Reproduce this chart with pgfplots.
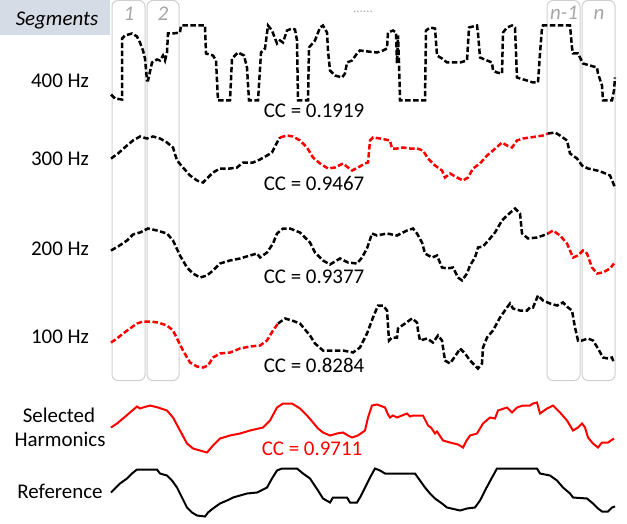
\documentclass[border=0pt]{standalone}
\usepackage{pgfplots}
\pgfplotsset{compat=1.18}
\usepackage{fontspec}
\setmainfont{Carlito}
\definecolor{segfill}{HTML}{D6DCE5}
\definecolor{boxgray}{HTML}{D0D0D0}
\definecolor{lblgray}{HTML}{A6A6A6}
\newcommand\lbl{\fontsize{21}{25}\selectfont}
\begin{document}
\begin{tikzpicture}
\begin{axis}[scale only axis, width=627bp, height=523bp,
  xmin=0, xmax=627, ymin=0, ymax=523, y dir=reverse,
  hide axis, clip=false]
\path (axis cs:0,0) rectangle (axis cs:627,523);
% segments header
\fill[segfill] (axis cs:0,0) rectangle (axis cs:110,35);
\node[anchor=base, font=\lbl\itshape] at (axis cs:57,25) {Segments};
% segment boxes
\draw[boxgray, line width=1bp, rounded corners=6bp] (axis cs:112,0) rectangle (axis cs:145,380);
\draw[boxgray, line width=1bp, rounded corners=6bp] (axis cs:147,0) rectangle (axis cs:179,380);
\draw[boxgray, line width=1bp, rounded corners=6bp] (axis cs:547,0) rectangle (axis cs:580,380);
\draw[boxgray, line width=1bp, rounded corners=6bp] (axis cs:582,0) rectangle (axis cs:615,380);
\node[anchor=base, font=\lbl\itshape, text=lblgray] at (axis cs:129,20) {1};
\node[anchor=base, font=\lbl\itshape, text=lblgray] at (axis cs:163,20) {2};
\node[anchor=base, font=\lbl\itshape, text=lblgray] at (axis cs:564,19) {n-1};
\node[anchor=base, font=\lbl\itshape, text=lblgray] at (axis cs:599,19) {n};
\node[anchor=base, font=\fontsize{13}{14}\selectfont, text=lblgray] at (axis cs:363,12) {......};
% row labels
\node[anchor=base, font=\lbl] at (axis cs:60,87) {400 Hz};
\node[anchor=base, font=\lbl] at (axis cs:60,165) {300 Hz};
\node[anchor=base, font=\lbl] at (axis cs:60,255) {200 Hz};
\node[anchor=base, font=\lbl] at (axis cs:60,343) {100 Hz};
\node[anchor=base, font=\lbl] at (axis cs:59,422) {Selected};
\node[anchor=base, font=\lbl] at (axis cs:60,446) {Harmonics};
\node[anchor=base, font=\lbl] at (axis cs:60,498) {Reference};
% CC labels
\node[anchor=base, font=\lbl] at (axis cs:314,117) {CC = 0.1919};
\node[anchor=base, font=\lbl] at (axis cs:314,190) {CC = 0.9467};
\node[anchor=base, font=\lbl] at (axis cs:314,283) {CC = 0.9377};
\node[anchor=base, font=\lbl] at (axis cs:314,372) {CC = 0.8284};
\node[anchor=base, font=\lbl, text=red] at (axis cs:312,455) {CC = 0.9711};
% 400 Hz
\addplot[black, line width=2.5bp, dash pattern=on 5.5bp off 2.5bp] coordinates {
(111,94) (115,98) (122,99) (122,38) (125,35) (132,33) (137,36) (140,42) (143,50) (145,58) (147,80) (148,80) (152,62) (157,59) (160,60) (163,55) (165,60) (167,52) (168,33) (173,33) (180,32) (181,25) (205,25) (206,53) (213,55) (216,60) (218,100) (230,100) (232,58) (238,52) (244,55) (247,67) (249,100) (258,100) (261,52) (265,48) (268,25) (272,30) (277,43) (280,40) (283,42) (287,30) (292,28) (295,29) (297,40) (298,100) (308,100) (309,47) (315,40) (320,27) (323,25) (327,32) (328,50) (330,70) (335,75) (342,77) (345,73) (347,62) (352,60) (357,53) (360,50) (368,51) (377,52) (383,50) (387,48) (388,32) (393,30) (396,32) (397,63) (398,35) (399,62) (400,100) (425,100) (426,30) (430,27) (435,28) (437,55) (442,58) (447,62) (453,62) (460,62) (467,60) (469,27) (477,25) (478,33) (480,57) (487,60) (492,62) (493,70) (497,72) (502,73) (503,32) (507,27) (512,25) (515,27) (517,77) (520,78) (527,80) (533,82) (538,82) (540,53) (542,27) (543,25) (570,25) (572,47) (573,53) (578,53) (583,63) (590,65) (597,67) (598,73) (602,85) (603,100) (612,100) (614,90) (615,77)
};
% 300 Hz
\addplot[black, line width=2.5bp, dash pattern=on 5.5bp off 2.5bp] coordinates {
(111,158) (118,153) (127,145) (133,140) (140,136) (147,138) (153,136) (160,138) (167,142) (173,147) (177,160) (183,167) (190,175) (197,180) (203,182) (208,177) (213,172) (220,168) (230,168) (237,167) (243,162) (253,162) (260,159) (267,155) (272,152) (277,142) (280,137)
};
\addplot[red, line width=2.5bp, dash pattern=on 5.5bp off 2.5bp] coordinates {
(280,137) (287,135) (293,136) (300,140) (307,147) (310,152) (313,157) (320,163) (328,168) (335,167) (343,163) (348,167) (352,170) (358,167) (365,163) (368,162) (370,140) (373,137) (380,138) (390,140) (392,148) (397,148) (403,147) (410,148) (417,148) (423,150) (428,158) (435,165) (442,170) (445,177) (450,173) (457,177) (463,180) (468,177) (473,168) (480,163) (487,155) (493,150) (502,142) (507,145) (512,147) (517,140) (523,138) (530,137) (537,136) (543,135) (548,133)
};
\addplot[black, line width=2.5bp, dash pattern=on 5.5bp off 2.5bp] coordinates {
(548,133) (555,132) (560,135) (567,140) (570,153) (577,158) (582,165) (588,168) (597,170) (603,172) (610,175) (615,187)
};
% 200 Hz
\addplot[black, line width=2.5bp, dash pattern=on 5.5bp off 2.5bp] coordinates {
(111,250) (118,246) (127,240) (133,234) (140,232) (148,228) (157,230) (167,233) (173,240) (180,255) (187,267) (193,273) (200,277) (207,275) (213,270) (220,263) (230,260) (240,258) (250,255) (257,253) (260,257) (267,252) (273,243) (277,233) (283,228) (290,228) (300,232) (310,242) (315,252) (323,260) (330,264) (340,258) (348,262) (357,263) (362,257) (367,248) (372,233) (377,235) (387,233) (397,235) (407,230) (413,228) (417,233) (422,242) (425,253) (432,257) (437,255) (442,267) (447,268) (453,267) (458,277) (462,280) (467,273) (470,265) (475,257) (478,247) (483,246) (490,238) (495,232) (502,220) (507,215) (515,208) (520,213) (522,233) (528,238) (537,237) (543,235) (548,233)
};
\addplot[red, line width=2.5bp, dash pattern=on 5.5bp off 2.5bp] coordinates {
(548,233) (553,230) (560,235) (567,243) (573,257) (578,255) (583,250) (587,253) (592,267) (597,273) (603,272) (610,268) (614,263)
};
% 100 Hz
\addplot[red, line width=2.5bp, dash pattern=on 5.5bp off 2.5bp] coordinates {
(111,342) (117,338) (123,333) (130,328) (137,323) (143,321) (150,321) (158,322) (167,325) (173,330) (178,340) (183,350) (190,362) (197,366) (203,367) (208,365) (213,357) (220,353) (230,352) (240,348) (250,346) (260,345) (267,340) (273,330) (278,323)
};
\addplot[black, line width=2.5bp, dash pattern=on 5.5bp off 2.5bp] coordinates {
(278,323) (285,318) (292,320) (300,323) (310,335) (315,343) (323,350) (333,350) (343,350) (353,352) (360,347) (367,333) (373,317) (378,305) (383,305) (387,310) (389,340) (392,337) (397,337) (398,328) (405,323) (412,318) (417,322) (418,330) (420,340) (427,338) (433,342) (438,335) (442,340) (443,347) (445,360) (450,363) (457,353) (460,348) (465,353) (470,360) (475,365) (478,368) (482,363) (483,347) (487,337) (493,330) (500,317) (507,307) (510,303) (513,308) (520,310) (527,310) (530,307) (533,307) (538,295) (543,300) (550,303) (557,305) (563,302) (568,307) (572,310) (575,327) (578,340) (582,340) (588,338) (593,340) (598,348) (603,357) (608,358) (612,357) (614,363)
};
% Selected harmonics
\addplot[red, line width=2bp] coordinates {
(111,427) (117,423) (123,418) (130,412) (137,406) (140,408) (143,407) (150,405) (158,407) (167,410) (173,417) (180,430) (187,443) (193,448) (200,450) (207,452) (213,445) (220,438) (230,435) (240,433) (250,430) (263,427) (270,420) (277,407) (283,403) (292,403) (300,408) (307,415) (313,422) (318,428) (323,432) (330,435) (337,433) (343,432) (348,435) (352,437) (358,435) (365,430) (368,417) (372,405) (377,404) (385,407) (388,414) (390,417) (393,415) (397,417) (407,413) (410,416) (413,415) (423,415) (428,425) (431,427) (435,433) (437,431) (443,440) (450,442) (458,444) (463,447) (466,441) (470,435) (477,433) (483,423) (490,417) (495,418) (498,410) (507,407) (512,412) (517,407) (523,405) (530,405) (533,403) (537,402) (540,413) (547,408) (553,405) (560,412) (567,420) (573,430) (578,427) (582,423) (585,427) (588,437) (593,443) (598,447) (602,442) (608,442) (614,438)
};
% Reference
\addplot[black, line width=2bp] coordinates {
(111,492) (115,488) (120,483) (127,478) (132,473) (137,469) (147,469) (157,469) (160,473) (167,475) (172,480) (177,487) (182,497) (187,507) (192,512) (197,515) (205,516) (208,512) (213,508) (220,503) (227,500) (233,497) (247,493) (257,492) (267,487) (272,478) (277,470) (282,468) (297,468) (303,473) (310,478) (318,490) (323,498) (330,502) (333,497) (347,497) (350,502) (357,502) (360,497) (365,487) (370,477) (375,468) (380,470) (385,473) (415,473) (420,480) (425,487) (430,493) (435,498) (442,503) (447,507) (460,510) (467,508) (475,507) (480,500) (485,490) (492,477) (497,468) (510,468) (537,468) (540,473) (550,475) (557,480) (563,487) (570,493) (573,497) (587,498) (593,503) (598,508) (602,511) (608,511) (612,507) (615,506)
};
\end{axis}
\end{tikzpicture}
\end{document}
